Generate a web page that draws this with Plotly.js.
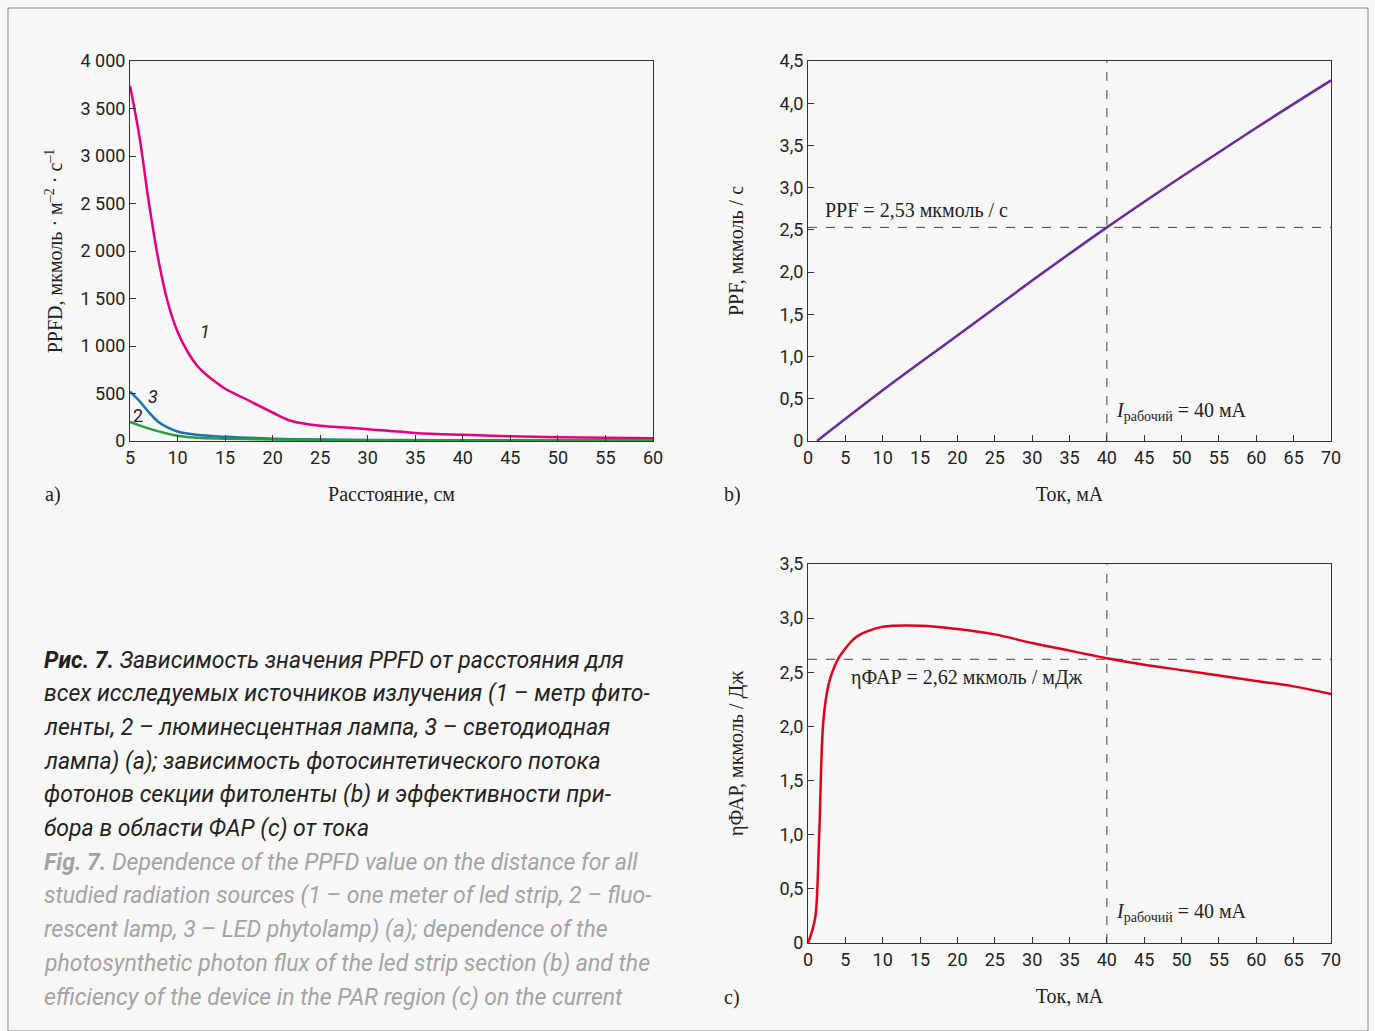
<!DOCTYPE html>
<html><head><meta charset="utf-8">
<script src="https://cdn.plot.ly/plotly-3.0.1.min.js"></script>
<style>body{margin:0;background:#f7f7f7}</style>
</head><body>
<div id="chart" style="width:1375px;height:1031px"></div>
<script>
// panel a: PPFD vs distance
var dist1 = [5,6,7,8,9,10,11,12,13,14,15,17,20,22,25,28,30,35,40,45,50,55,60]
var ppfd1 = [3740,3200,2500,1900,1450,1150,950,800,700,620,550,450,300,210,160,140,125,85,65,50,40,35,30]
var dist3 = [5,6,7,8,9,10,12,15,20,25,30,40,60]
var ppfd3 = [520,420,300,200,140,100,65,45,25,15,10,8,5]
var dist2 = [5,7,10,12,15,20,30,60]
var ppfd2 = [200,130,55,35,25,15,8,5]

// panel b: PPF vs current
var curB = [1.2,10,20,30,40,50,60,70]
var ppf = [0,0.6,1.25,1.9,2.53,3.13,3.71,4.27]

// panel c: efficiency vs current
var curC = [0,0.5,1,1.5,2,2.5,3,4,5,6,7,8,10,15,20,25,30,35,40,45,50,55,60,65,70]
var eff = [0,0.1,0.25,1.0,2.0,2.3,2.45,2.62,2.72,2.8,2.85,2.88,2.92,2.93,2.9,2.85,2.77,2.7,2.63,2.57,2.52,2.47,2.42,2.37,2.30]

var tickA = [0,500,1000,1500,2000,2500,3000,3500,4000]
var tickAtxt = ['0','500','1 000','1 500','2 000','2 500','3 000','3 500','4 000']
var tickB = [0,0.5,1,1.5,2,2.5,3,3.5,4,4.5]
var tickBtxt = ['0','0,5','1,0','1,5','2,0','2,5','3,0','3,5','4,0','4,5']
var tickC = [0,0.5,1,1.5,2,2.5,3,3.5]
var tickCtxt = ['0','0,5','1,0','1,5','2,0','2,5','3,0','3,5']

var tickFont = {family:'Liberation Sans Narrow, Roboto', size:18, color:'#222'}
var titleFont = {family:'Liberation Serif, DejaVu Serif', size:20, color:'#222'}

function ax(o) {
    return Object.assign({showline:true, mirror:true, linecolor:'#333', linewidth:1,
        ticks:'inside', ticklen:6, tickcolor:'#333', showgrid:false, zeroline:false,
        tickfont:tickFont}, o)
}

var data = [
    {x:dist1, y:ppfd1, mode:'lines', line:{color:'#e6007e', width:2.5, shape:'spline'}, xaxis:'x', yaxis:'y'},
    {x:dist3, y:ppfd3, mode:'lines', line:{color:'#1a6fb5', width:2.5, shape:'spline'}, xaxis:'x', yaxis:'y'},
    {x:dist2, y:ppfd2, mode:'lines', line:{color:'#2a9a3a', width:2.5, shape:'spline'}, xaxis:'x', yaxis:'y'},
    {x:curB, y:ppf, mode:'lines', line:{color:'#6a2a9a', width:2.5, shape:'spline'}, xaxis:'x2', yaxis:'y2'},
    {x:curC, y:eff, mode:'lines', line:{color:'#e3001b', width:2.5, shape:'spline'}, xaxis:'x3', yaxis:'y3'},
]

var cap = [
 ['<b>Рис. 7.</b> Зависимость значения PPFD от расстояния для','#222'],
 ['всех исследуемых источников излучения (1 – метр фито-','#222'],
 ['ленты, 2 – люминесцентная лампа, 3 – светодиодная','#222'],
 ['лампа) (a); зависимость фотосинтетического потока','#222'],
 ['фотонов секции фитоленты (b) и эффективности при-','#222'],
 ['бора в области ФАР (c) от тока','#222'],
 ['<b>Fig. 7.</b> Dependence of the PPFD value on the distance for all','#a3a3a3'],
 ['studied radiation sources (1 – one meter of led strip, 2 – fluo-','#a3a3a3'],
 ['rescent lamp, 3 – LED phytolamp) (a); dependence of the','#a3a3a3'],
 ['photosynthetic photon flux of the led strip section (b) and the','#a3a3a3'],
 ['efficiency of the device in the PAR region (c) on the current','#a3a3a3'],
]

var ann = [
    {x:12.9, y:1150, xref:'x', yref:'y', text:'<i>1</i>', showarrow:false, font:tickFont},
    {x:7.4, y:470, xref:'x', yref:'y', text:'<i>3</i>', showarrow:false, font:tickFont},
    {x:5.8, y:270, xref:'x', yref:'y', text:'2', showarrow:false, font:tickFont},
    {x:2, y:2.53, xref:'x2', yref:'y2', text:'PPF = 2,53 мкмоль / с', showarrow:false, xanchor:'left', yanchor:'bottom', yshift:4, font:titleFont},
    {x:41, y:0.35, xref:'x2', yref:'y2', text:'<i>I</i><sub>рабочий</sub> = 40 мА', showarrow:false, xanchor:'left', font:titleFont},
    {x:5.5, y:2.45, xref:'x3', yref:'y3', text:'ηФАР = 2,62 мкмоль / мДж', showarrow:false, xanchor:'left', font:titleFont},
    {x:41, y:0.28, xref:'x3', yref:'y3', text:'<i>I</i><sub>рабочий</sub> = 40 мА', showarrow:false, xanchor:'left', font:titleFont},
    {x:43/1375, y:1-494/1031, xref:'paper', yref:'paper', text:'a)', showarrow:false, xanchor:'left', yanchor:'middle', font:titleFont},
    {x:722/1375, y:1-494/1031, xref:'paper', yref:'paper', text:'b)', showarrow:false, xanchor:'left', yanchor:'middle', font:titleFont},
    {x:722/1375, y:1-997/1031, xref:'paper', yref:'paper', text:'c)', showarrow:false, xanchor:'left', yanchor:'middle', font:titleFont},
]
for (var i=0;i<cap.length;i++) {
    ann.push({x:42/1375, y:1-(660+i*33.7)/1031, xref:'paper', yref:'paper', xanchor:'left', yanchor:'middle', showarrow:false,
        text:'<i>'+cap[i][0]+'</i>', font:{family:'Liberation Sans Narrow, Roboto', size:23, color:cap[i][1]}})
}

var dash = {color:'#444', width:1, dash:'dash'}
var layout = {
    width:1375, height:1031, showlegend:false,
    paper_bgcolor:'#f7f7f7', plot_bgcolor:'#f7f7f7',
    margin:{l:0,r:0,t:0,b:0},
    xaxis: ax({domain:[130/1375,653/1375], range:[5,60], dtick:5, anchor:'y',
        title:{text:'Расстояние, см', font:titleFont, standoff:20}}),
    yaxis: ax({domain:[1-441/1031,1-61/1031], range:[0,4000], tickvals:tickA, ticktext:tickAtxt, anchor:'x',
        title:{text:'PPFD, мкмоль · м<sup>–2</sup> · с<sup>–1</sup>', font:titleFont, standoff:12}}),
    xaxis2: ax({domain:[808/1375,1331/1375], range:[0,70], dtick:5, anchor:'y2',
        title:{text:'Ток, мА', font:titleFont, standoff:20}}),
    yaxis2: ax({domain:[1-441/1031,1-61/1031], range:[0,4.5], tickvals:tickB, ticktext:tickBtxt, anchor:'x2',
        title:{text:'PPF, мкмоль / с', font:titleFont, standoff:30}}),
    xaxis3: ax({domain:[808/1375,1331/1375], range:[0,70], dtick:5, anchor:'y3',
        title:{text:'Ток, мА', font:titleFont, standoff:20}}),
    yaxis3: ax({domain:[1-943/1031,1-564/1031], range:[0,3.5], tickvals:tickC, ticktext:tickCtxt, anchor:'x3',
        title:{text:'ηФАР, мкмоль / Дж', font:titleFont, standoff:30}}),
    annotations: ann,
    shapes: [
        {type:'line', xref:'x2', yref:'y2', x0:0, x1:70, y0:2.53, y1:2.53, line:dash},
        {type:'line', xref:'x2', yref:'y2', x0:40, x1:40, y0:0, y1:4.5, line:dash},
        {type:'line', xref:'x3', yref:'y3', x0:0, x1:70, y0:2.62, y1:2.62, line:dash},
        {type:'line', xref:'x3', yref:'y3', x0:40, x1:40, y0:0, y1:3.5, line:dash},
        {type:'rect', xref:'paper', yref:'paper', x0:8/1375, x1:1368/1375, y0:0, y1:1-8/1031, line:{color:'#888', width:1}},
    ]
}

Plotly.newPlot('chart', data, layout, {displayModeBar:false})
</script>
</body></html>
